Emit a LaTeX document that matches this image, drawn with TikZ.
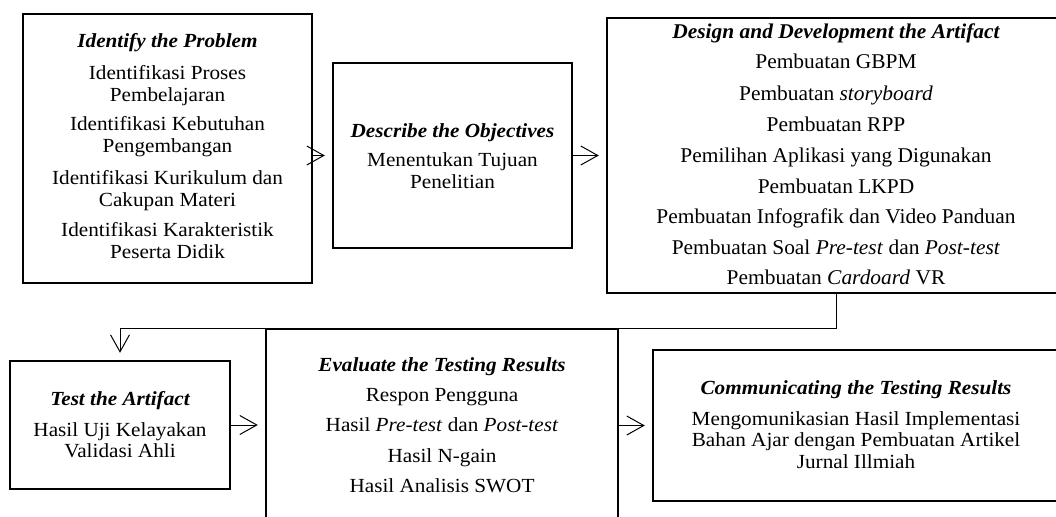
\documentclass[tikz,border=0pt]{standalone}
\usepackage{fontspec}
\usepackage{graphicx}
\setmainfont{Liberation Serif}
\usetikzlibrary{arrows.meta}
\newcommand{\sx}[1]{\scalebox{1.06}[1]{#1}}
\newcommand{\sy}[1]{\scalebox{1.02}[1]{#1}}
\tikzset{
  box/.style={draw, line width=2.4pt, inner sep=0pt},
  txt/.style={anchor=base, inner sep=0pt, font=\fontsize{20}{22}\selectfont},
  txtb/.style={anchor=base, inner sep=0pt, font=\fontsize{21}{23}\selectfont},
  arr/.style={line width=1pt, -{Straight Barb[length=17pt,width=19pt,line width=1pt]}, shorten >=7pt},
}
\begin{document}
\begin{tikzpicture}[x=1pt,y=-1pt]
\useasboundingbox (0,0) rectangle (1056,516);
\clip (0,0) rectangle (1056,516);
% boxes
\node[box, minimum width=289pt, minimum height=269pt] (b1) at (167.5,148.5) {};
\node[box, minimum width=239pt, minimum height=185pt] (b2) at (452.5,155.5) {};
\node[box, minimum width=458pt, minimum height=275pt] (b3) at (836,155.5) {};
\node[box, minimum width=220pt, minimum height=128pt] (b4) at (120,425) {};
\node[box, minimum width=352pt, minimum height=231pt] (b5) at (442,444.5) {};
\node[box, minimum width=407pt, minimum height=151pt] (b6) at (856.5,425.5) {};
% box 1 text
\node[txt] (t1a) at (167.5,48) {\sx{\bfseries\itshape Identify the Problem}};
\node[txt] (t1b) at (167.5,80) {\sx{Identifikasi Proses}};
\node[txt] (t1c) at (167.5,102) {\sx{Pembelajaran}};
\node[txt] (t1d) at (167.5,130) {\sx{Identifikasi Kebutuhan}};
\node[txt] (t1e) at (167.5,152) {\sx{Pengembangan}};
\node[txt] (t1f) at (167.5,184) {\sx{Identifikasi Kurikulum dan}};
\node[txt] (t1g) at (167.5,206) {\sx{Cakupan Materi}};
\node[txt] (t1h) at (167.5,236) {\sx{Identifikasi Karakteristik}};
\node[txt] (t1i) at (167.5,258) {\sx{Peserta Didik}};
% box 2 text
\node[txt] (t2a) at (452.5,137) {\sx{\bfseries\itshape Describe the Objectives}};
\node[txt] (t2b) at (452.5,166) {\sx{Menentukan Tujuan}};
\node[txt] (t2c) at (452.5,188) {\sx{Penelitian}};
% box 3 text
\node[txtb] (t3a) at (836,39) {\sy{\bfseries\itshape Design and Development the Artifact}};
\node[txtb] (t3b) at (836,69) {\sy{Pembuatan GBPM}};
\node[txtb] (t3c) at (836,100) {\sy{Pembuatan \textit{storyboard}}};
\node[txtb] (t3d) at (836,131) {\sy{Pembuatan RPP}};
\node[txtb] (t3e) at (836,162) {\sy{Pemilihan Aplikasi yang Digunakan}};
\node[txtb] (t3f) at (836,193) {\sy{Pembuatan LKPD}};
\node[txtb] (t3g) at (836,223) {\sy{Pembuatan Infografik dan Video Panduan}};
\node[txtb] (t3h) at (836,254) {\sy{Pembuatan Soal \textit{Pre-test} dan \textit{Post-test}}};
\node[txtb] (t3i) at (836,284) {\sy{Pembuatan \textit{Cardoard} VR}};
% box 4 text
\node[txt] (t4a) at (120,405) {\sx{\bfseries\itshape Test the Artifact}};
\node[txt] (t4b) at (120,436) {\sx{Hasil Uji Kelayakan}};
\node[txt] (t4c) at (120,457) {\sx{Validasi Ahli}};
% box 5 text
\node[txt] (t5a) at (442,371) {\sx{\bfseries\itshape Evaluate the Testing Results}};
\node[txt] (t5b) at (442,401) {\sx{Respon Pengguna}};
\node[txt] (t5c) at (442,431) {\sx{Hasil \textit{Pre-test} dan \textit{Post-test}}};
\node[txt] (t5d) at (442,462) {\sx{Hasil N-gain}};
\node[txt] (t5e) at (442,492) {\sx{Hasil Analisis SWOT}};
% box 6 text
\node[txt] (t6a) at (856,394) {\sx{\bfseries\itshape Communicating the Testing Results}};
\node[txt] (t6b) at (856,425) {\sx{Mengomunikasian Hasil Implementasi}};
\node[txt] (t6c) at (856,446.5) {\sx{Bahan Ajar dengan Pembuatan Artikel}};
\node[txt] (t6d) at (856,468) {\sx{Jurnal Illmiah}};
% connectors
\draw[arr] (b1.east |- b2.west) -- (b2.west);
\draw[arr] (b2.east) -- (b3.west);
\draw[arr] (b3.south) -- ++(0,34) -| (b4.north);
\draw[arr] (b4.east) -- (b4.east -| b5.west);
\draw[arr] (b5.east |- b6.west) -- (b6.west);
\end{tikzpicture}
\end{document}
